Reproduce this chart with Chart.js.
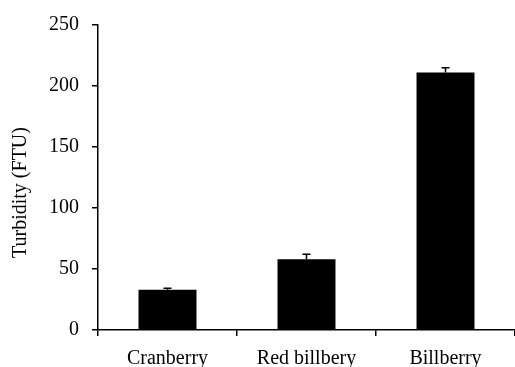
<!DOCTYPE html>
<html>
<head>
<meta charset="utf-8">
<script src="https://cdn.jsdelivr.net/npm/chart.js@4.4.1/dist/chart.umd.min.js"></script>
<style>
html,body{margin:0;padding:0;background:#fff;}
canvas{display:block;}
</style>
</head>
<body>
<canvas id="c" width="515" height="367"></canvas>
<script>
const categories = ["Cranberry", "Red billbery", "Billberry"];
const turbidity = [33, 58, 211];
const errors = [1.3, 4, 4];
const yTicks = [0, 50, 100, 150, 200, 250];
const yTitle = "Turbidity (FTU)";

const FONT = "'Liberation Serif', 'Times New Roman', serif";

const errorBars = {
  id: 'errorBars',
  afterDatasetsDraw(chart) {
    const ctx = chart.ctx;
    const xs = chart.scales.x, ys = chart.scales.y;
    ctx.save();
    ctx.strokeStyle = '#000';
    ctx.lineWidth = 1.5;
    turbidity.forEach((v, i) => {
      const x = xs.getPixelForValue(i);
      const yv = ys.getPixelForValue(v);
      const yt = ys.getPixelForValue(v + errors[i]);
      ctx.beginPath();
      ctx.moveTo(x, yv);
      ctx.lineTo(x, yt);
      ctx.moveTo(x - 4, yt);
      ctx.lineTo(x + 4, yt);
      ctx.stroke();
    });
    ctx.restore();
  }
};

const yTitlePlugin = {
  id: 'yTitlePlugin',
  afterDraw(chart) {
    const ctx = chart.ctx;
    const a = chart.chartArea;
    ctx.save();
    ctx.fillStyle = '#000';
    ctx.font = "20px " + FONT;
    ctx.textAlign = 'center';
    ctx.textBaseline = 'middle';
    ctx.translate(21, (a.top + a.bottom) / 2 + 15);
    ctx.rotate(-Math.PI / 2);
    ctx.fillText(yTitle, 0, 0);
    ctx.restore();
  }
};

new Chart(document.getElementById('c'), {
  type: 'bar',
  data: {
    labels: categories,
    datasets: [{
      data: turbidity,
      backgroundColor: '#000',
      borderColor: '#000',
      borderWidth: 0,
      categoryPercentage: 1,
      barPercentage: 0.417
    }]
  },
  options: {
    responsive: false,
    animation: false,
    layout: { padding: { top: 23, right: 0, bottom: 0, left: 0 } },
    plugins: { legend: { display: false }, tooltip: { enabled: false } },
    scales: {
      x: {
        offset: true,
        grid: { display: true, drawOnChartArea: false, drawTicks: true, tickLength: 6, color: '#000', offset: true, lineWidth: 1.5 },
        border: { display: true, color: '#000', width: 1.5 },
        ticks: { color: '#000', font: { family: FONT, size: 20 }, padding: 11, maxRotation: 0, autoSkip: false },
        afterFit(s) { s.height = 37; }
      },
      y: {
        min: 0, max: 250,
        afterBuildTicks(s) { s.ticks = yTicks.map(v => ({ value: v })); },
        grid: { display: true, drawOnChartArea: false, drawTicks: true, tickLength: 6, color: '#000', lineWidth: 1.5 },
        border: { display: true, color: '#000', width: 1.5 },
        ticks: { color: '#000', font: { family: FONT, size: 20 }, padding: 13 },
        afterFit(s) { s.width = 98; }
      }
    }
  },
  plugins: [errorBars, yTitlePlugin]
});
</script>
</body>
</html>
